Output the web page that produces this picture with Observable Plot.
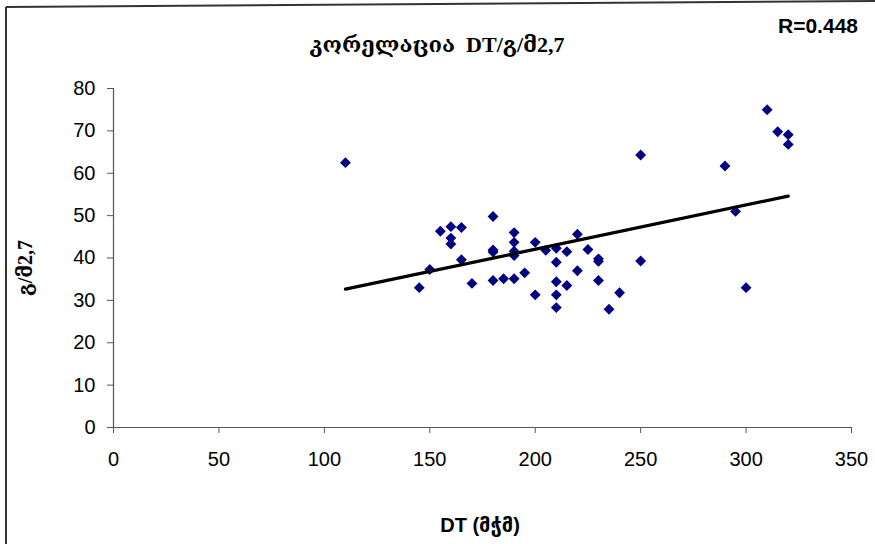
<!DOCTYPE html>
<html><head><meta charset="utf-8">
<script src="https://cdn.jsdelivr.net/npm/d3@7"></script>
<script src="https://cdn.jsdelivr.net/npm/@observablehq/plot@0.6"></script>
<style>
body{margin:0;background:#fff}
#chart{position:relative;width:875px;height:544px;overflow:hidden;background:#fff}
</style>
</head><body><div id="chart"></div>
<script>
const dtValues = [110,145,150,155,160,165,160,160,165,170,
  180,180,180,180,185,190,190,190,190,190,
  195,200,200,205,210,210,210,210,210,215,
  215,220,220,225,230,230,230,235,240,250,
  250,290,295,300,310,315,320,320];
const gm27Values = [62.5,33.0,37.3,46.3,47.4,47.2,44.7,43.3,39.6,34.0,
  49.8,41.9,41.4,34.7,35.1,46.0,43.7,41.6,40.6,35.1,
  36.5,43.7,31.3,41.8,42.3,39.0,34.4,31.3,28.3,41.5,
  33.5,45.6,37.0,42.0,39.8,39.2,34.7,27.9,31.8,64.3,
  39.3,61.7,51.0,33.0,75.0,69.8,69.1,66.8];
const xTicks = [0,50,100,150,200,250,300,350];
const yTicks = [0,10,20,30,40,50,60,70,80];
const titleText = "კორელაცია  DT/გ/მ2,7";
const rText = "R=0.448";
const xLabel = "DT (მჭმ)";
const yLabel = "გ/მ2,7";

const points = dtValues.map((x, i) => ({x, y: gm27Values[i]}));

const W = 875, H = 544;
const mL = 113, mR = 24, mT = 88, mB = 117;

const chart = Plot.plot({
  width: W, height: H,
  marginLeft: mL, marginRight: mR, marginTop: mT, marginBottom: mB,
  style: {fontFamily: "'Liberation Sans', Arial, sans-serif", fontSize: "20px", color: "#000", background: "#fff"},
  x: {domain: [0, 350], ticks: xTicks},
  y: {domain: [0, 80], ticks: yTicks},
  marks: [
    Plot.axisX({ticks: xTicks, tickSize: 6, tickPadding: 18, label: null, stroke: "#555", fontSize: 20}),
    Plot.axisY({ticks: yTicks, tickSize: 6, tickPadding: 12, label: null, stroke: "#555", fontSize: 20}),
    Plot.ruleX([0], {stroke: "#555", strokeWidth: 1.2}),
    Plot.ruleY([0], {stroke: "#555", strokeWidth: 1.2}),
    Plot.dot(points, {x: "x", y: "y", symbol: "diamond2", r: 4.9, fill: "#000080", stroke: "none"}),
    Plot.linearRegressionY(points, {x: "x", y: "y", ci: 0, stroke: "#000", strokeWidth: 3.2})
  ]
});

const svg = d3.select(chart);
svg.append("line").attr("x1", 6).attr("y1", 7).attr("x2", 875).attr("y2", 1)
  .attr("stroke", "#333").attr("stroke-width", 2);
svg.append("line").attr("x1", 6).attr("y1", 7).attr("x2", 6).attr("y2", 544)
  .attr("stroke", "#333").attr("stroke-width", 2);

svg.append("text").text(titleText)
  .attr("x", 437).attr("y", 52).attr("text-anchor", "middle")
  .attr("font-family", "'Liberation Serif', 'DejaVu Serif', serif")
  .attr("font-weight", "bold").attr("font-size", 22).attr("fill", "#000");
svg.append("text").text(rText)
  .attr("x", 858).attr("y", 33).attr("text-anchor", "end")
  .attr("font-family", "'Liberation Sans', Arial, sans-serif")
  .attr("font-weight", "bold").attr("font-size", 21).attr("fill", "#000");
svg.append("text").text(xLabel)
  .attr("x", 480).attr("y", 532).attr("text-anchor", "middle")
  .attr("font-family", "'Liberation Sans', 'DejaVu Sans', Arial, sans-serif")
  .attr("font-weight", "bold").attr("font-size", 20).attr("fill", "#000");
svg.append("text").text(yLabel)
  .attr("transform", "translate(32,268) rotate(-90)").attr("text-anchor", "middle")
  .attr("font-family", "'Liberation Serif', 'DejaVu Serif', serif")
  .attr("font-weight", "bold").attr("font-size", 20).attr("fill", "#000");

document.getElementById("chart").appendChild(chart);
</script>
</body></html>
